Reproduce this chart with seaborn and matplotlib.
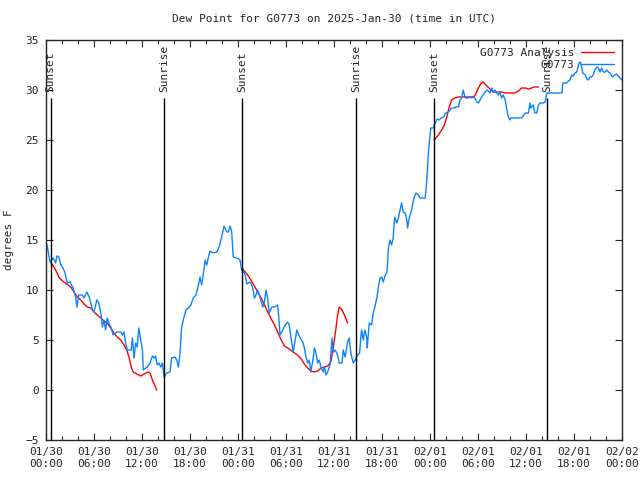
import pandas as pd
import seaborn as sns
import matplotlib.pyplot as plt
import matplotlib.dates as mdates

START = pd.Timestamp('2025-01-30 00:00')

# G0773 observations (hours after 01/30 00:00 UTC, dew point in F)
obs_hours = [0.1, 0.5, 0.9, 1.2, 1.35, 1.6, 1.85, 2.05, 2.35, 2.65,
             3.0, 3.4, 3.7, 3.85, 4.1, 4.55, 4.75, 5.1, 5.4, 5.8,
             6.0, 6.35, 6.6, 6.85, 7.05, 7.25, 7.45, 7.65, 7.85, 8.1,
             8.4, 8.85, 9.35, 9.55, 9.75, 9.95, 10.15, 10.65, 10.8, 11.0,
             11.2, 11.4, 11.6, 11.85, 12.05, 12.15, 12.65, 13.0, 13.3, 13.5,
             13.7, 13.9, 14.1, 14.35, 14.55, 14.75, 15.1, 15.5, 15.7, 16.1,
             16.35, 16.55, 16.75, 16.95, 17.25, 17.5, 17.8, 18.1, 18.4, 18.75,
             19.05, 19.25, 19.45, 19.65, 19.9, 20.1, 20.3, 20.5, 20.9, 21.35,
             21.65, 21.85, 22.1, 22.25, 22.6, 22.8, 23.0, 23.2, 23.4, 23.85,
             24.25, 24.45, 24.7, 24.9, 25.1, 25.45, 25.6, 25.85, 26.05, 26.25,
             26.45, 26.75, 27.1, 27.3, 27.5, 27.7, 27.9, 28.25, 28.55, 28.95,
             29.1, 29.25, 29.6, 29.9, 30.2, 30.4, 30.6, 30.9, 31.15, 31.35,
             31.6, 31.9, 32.1, 32.3, 32.5, 32.7, 32.9, 33.1, 33.4, 33.55,
             33.75, 33.95, 34.15, 34.4, 34.65, 34.8, 35.0, 35.2, 35.5, 35.75,
             35.9, 36.15, 36.45, 36.65, 37.0, 37.15, 37.4, 37.7, 37.9, 38.1,
             38.4, 38.65, 38.95, 39.2, 39.35, 39.45, 39.65, 39.85, 40.1, 40.15,
             40.4, 40.7, 40.9, 41.1, 41.35, 41.55, 41.75, 41.95, 42.15, 42.4,
             42.6, 42.7, 42.8, 43.0, 43.2, 43.4, 43.5, 43.6, 43.85, 44.05,
             44.25, 44.45, 44.65, 44.9, 45.1, 45.2, 45.4, 45.7, 46.0, 46.25,
             46.55, 46.75, 47.4, 47.6, 47.8, 47.9, 48.1, 48.4, 48.6, 48.9,
             49.15, 49.4, 49.7, 49.95, 50.3, 50.7, 51.05, 51.2, 51.55, 51.75,
             51.95, 52.15, 52.4, 52.8, 53.0, 53.2, 53.4, 53.6, 53.85, 54.05,
             54.25, 54.45, 54.8, 55.1, 55.3, 55.5, 55.7, 55.9, 56.1, 56.35,
             56.55, 56.75, 56.95, 57.15, 57.4, 57.6, 57.8, 58.0, 58.1, 59.45,
             59.9, 60.3, 60.5, 60.6, 60.9, 61.1, 61.35, 61.55, 61.75, 62.2,
             62.4, 62.6, 64.5, 64.6, 65.1, 65.3, 65.5, 65.7, 65.9, 66.1,
             66.35, 66.55, 66.7, 66.85, 67.1, 67.4, 67.6, 67.8, 68.0, 68.2,
             68.4, 68.6, 68.85, 69.05, 69.25, 69.45, 69.65, 69.9, 70.1, 70.3,
             70.5, 70.8, 71.1, 71.3, 71.5, 71.75, 72.0]
obs_dew = [14.6, 12.8, 13.2, 12.7, 13.4, 13.3, 12.5, 12.3, 11.8, 10.7,
           10.8, 10.2, 9.3, 8.3, 9.5, 9.5, 9.2, 9.8, 9.3, 8.0,
           7.8, 9.0, 8.7, 7.7, 6.3, 7.0, 6.0, 7.2, 6.7, 6.3,
           5.5, 5.8, 5.8, 5.5, 5.8, 4.7, 4.0, 4.0, 5.2, 3.2,
           4.7, 4.3, 6.2, 5.0, 4.0, 2.0, 2.3, 2.7, 3.4, 3.2,
           3.4, 2.5, 2.7, 2.3, 2.7, 1.3, 1.7, 1.8, 3.2, 3.3,
           3.0, 2.3, 3.7, 6.3, 7.3, 8.0, 8.2, 8.5, 9.2, 9.5,
           10.5, 11.3, 10.5, 11.5, 13.0, 12.5, 13.3, 13.9, 13.7, 13.8,
           14.3, 15.0, 15.8, 16.4, 15.8, 15.8, 16.4, 15.9, 13.3, 13.2,
           13.0, 12.0, 11.8, 11.5, 10.6, 10.8, 10.7, 10.2, 9.2, 9.5,
           10.0, 9.3, 8.3, 8.8, 10.0, 9.2, 7.7, 8.3, 8.3, 8.5,
           7.3, 5.5, 6.0, 6.5, 6.8, 6.5, 5.3, 3.8, 5.0, 6.0,
           5.5, 5.0, 4.8, 4.2, 3.3, 2.7, 3.0, 1.8, 3.2, 4.2,
           3.7, 2.7, 3.0, 2.2, 1.8, 2.3, 1.5, 1.8, 2.5, 5.2,
           3.8, 4.0, 3.5, 2.7, 2.7, 4.0, 3.3, 4.8, 5.2, 3.7,
           2.7, 3.0, 3.5, 3.7, 5.3, 6.0, 5.0, 6.0, 5.2, 4.2,
           6.7, 6.5, 7.7, 8.3, 9.2, 10.3, 11.2, 11.3, 10.8, 11.5,
           11.7, 12.7, 14.2, 15.0, 14.5, 15.2, 16.5, 17.3, 16.7, 17.2,
           18.0, 18.7, 17.8, 17.7, 17.0, 16.2, 17.2, 18.0, 19.2, 19.7,
           19.5, 19.2, 19.2, 21.0, 23.7, 24.7, 26.2, 26.2, 26.6, 27.1,
           27.0, 27.2, 27.3, 27.7, 27.8, 28.2, 28.2, 28.3, 28.3, 29.0,
           29.2, 30.0, 29.2, 29.2, 29.3, 29.2, 29.3, 29.2, 28.8, 28.7,
           29.0, 29.3, 29.7, 30.0, 29.9, 29.7, 30.2, 29.8, 30.0, 29.7,
           29.5, 29.8, 29.2, 29.5, 29.0, 28.0, 27.3, 27.0, 27.2, 27.2,
           27.7, 27.7, 28.7, 28.2, 28.5, 27.7, 27.7, 28.5, 28.7, 28.7,
           28.8, 29.7, 29.7, 30.7, 30.7, 30.9, 31.0, 31.5, 31.4, 31.7,
           31.8, 32.5, 32.8, 32.7, 31.7, 31.5, 31.1, 31.0, 31.3, 31.3,
           31.5, 32.0, 32.3, 32.2, 31.8, 32.2, 31.8, 31.8, 32.0, 31.8,
           31.7, 31.3, 31.5, 31.6, 31.4, 31.2, 31.0]

# analysis runs, one per night
ana_hours_1 = [0.6, 1.2, 1.6, 2.05, 2.6, 3.1, 3.5, 3.9, 4.35, 4.75, 5.15,
               5.6, 6.0, 6.4, 6.85, 7.25, 7.65, 8.1, 8.5, 8.9, 9.35, 9.75,
               10.1, 10.4, 10.65, 10.9, 11.35, 11.85, 12.25, 12.75, 13.0, 13.3, 13.85]
ana_dew_1 = [12.8, 12.0, 11.3, 10.9, 10.6, 10.3, 9.8, 9.3, 9.0, 8.6, 8.3,
             8.2, 7.8, 7.5, 7.2, 6.9, 6.7, 6.2, 5.7, 5.3, 5.0, 4.5,
             4.0, 3.2, 2.3, 1.8, 1.6, 1.4, 1.6, 1.8, 1.7, 1.0, 0.0]
ana_hours_2 = [24.6, 25.2, 25.6, 26.05, 26.45, 26.9, 27.3, 27.7, 28.1, 28.55, 28.95,
               29.4, 29.8, 30.2, 30.6, 31.05, 31.45, 31.9, 32.3, 32.7, 33.1, 33.55,
               33.95, 34.4, 34.8, 35.2, 35.6, 35.9, 36.25, 36.45, 36.65, 37.0, 37.3, 37.7]
ana_dew_2 = [12.1, 11.5, 11.0, 10.4, 9.8, 9.2, 8.5, 7.8, 7.2, 6.5, 5.8,
             5.0, 4.4, 4.2, 4.0, 3.7, 3.5, 3.1, 2.6, 2.2, 1.9, 1.8,
             1.9, 2.2, 2.3, 2.4, 2.8, 4.2, 6.2, 7.5, 8.3, 8.0, 7.5, 6.7]
ana_hours_3 = [48.5, 49.05, 49.45, 49.8, 50.1, 50.4, 50.7, 51.1, 51.55, 51.95, 52.4,
               52.8, 53.2, 53.6, 54.05, 54.4, 54.65, 55.1, 55.5, 55.9, 56.35,
               57.0, 57.4, 58.0, 58.6, 59.05, 59.45, 59.9, 60.3, 60.7, 61.1, 61.55]
ana_dew_3 = [25.0, 25.5, 26.0, 26.5, 27.3, 28.3, 29.0, 29.2, 29.3, 29.3, 29.3,
             29.3, 29.3, 29.4, 30.2, 30.7, 30.8, 30.4, 30.1, 29.8, 29.8,
             29.8, 29.7, 29.7, 29.7, 29.9, 30.2, 30.2, 30.1, 30.2, 30.3, 30.3]

sun_hours = [0.59, 14.8, 24.5, 38.8, 48.55, 62.66]
sun_labels = ['Sunset', 'Sunrise', 'Sunset', 'Sunrise', 'Sunset', 'Sunrise']


def to_time(hours):
    return START + pd.to_timedelta(hours, unit='h')


obs = pd.DataFrame({'time': to_time(obs_hours), 'dew': obs_dew})
ana = pd.concat([
    pd.DataFrame({'time': to_time(h), 'dew': d, 'run': i})
    for i, (h, d) in enumerate([(ana_hours_1, ana_dew_1),
                                (ana_hours_2, ana_dew_2),
                                (ana_hours_3, ana_dew_3)])
], ignore_index=True)

sns.set_style('ticks')
plt.rcParams['font.family'] = ['DejaVu Sans Mono']
plt.rcParams['font.size'] = 8

fig, ax = plt.subplots(figsize=(6.4, 4.8), dpi=100)
fig.subplots_adjust(left=0.0719, right=0.9719, bottom=0.0833, top=0.9167)

sns.lineplot(data=ana, x='time', y='dew', units='run', estimator=None,
             color='#ff0000', lw=1.0, label='G0773 Analysis', ax=ax)
sns.lineplot(data=obs, x='time', y='dew', color='#0a84ff', lw=1.0,
             label='G0773', ax=ax)

# sunrise / sunset markers
sun_x = mdates.date2num(to_time(sun_hours))
ax.vlines(sun_x, -5, 29.2, color='black', lw=1.0)
for x, lab in zip(sun_x, sun_labels):
    ax.text(x, 29.8, lab, rotation=90, ha='center', va='bottom', fontsize=8)

ax.set_xlim(mdates.date2num(START), mdates.date2num(START + pd.Timedelta(hours=72)))
ax.set_ylim(-5, 35)
ax.set_yticks(range(-5, 36, 5))
ax.xaxis.set_major_locator(mdates.HourLocator(byhour=[0, 6, 12, 18]))
ax.xaxis.set_minor_locator(mdates.HourLocator(byhour=range(0, 24, 2)))
ax.xaxis.set_major_formatter(mdates.DateFormatter('%m/%d\n%H:%M'))
ax.tick_params(which='both', direction='in', top=True, right=True, width=0.8)
ax.tick_params(which='major', length=5, pad=5)
ax.tick_params(which='minor', length=3)
for s in ax.spines.values():
    s.set_linewidth(1.0)
    s.set_visible(True)

ax.set_xlabel('')
ax.set_ylabel('degrees F')
ax.yaxis.set_label_coords(-0.055, 0.5)
ax.set_title('Dew Point for G0773 on 2025-Jan-30 (time in UTC)', fontsize=8, pad=13)

handles, labels = ax.get_legend_handles_labels()
uniq = dict(zip(labels, handles))
ax.legend(list(uniq.values()), list(uniq.keys()), loc='upper right',
          frameon=False, markerfirst=False, handlelength=3.0,
          borderaxespad=0.3, labelspacing=0.2, handletextpad=0.6)

fig.savefig('out.png', dpi=100)
